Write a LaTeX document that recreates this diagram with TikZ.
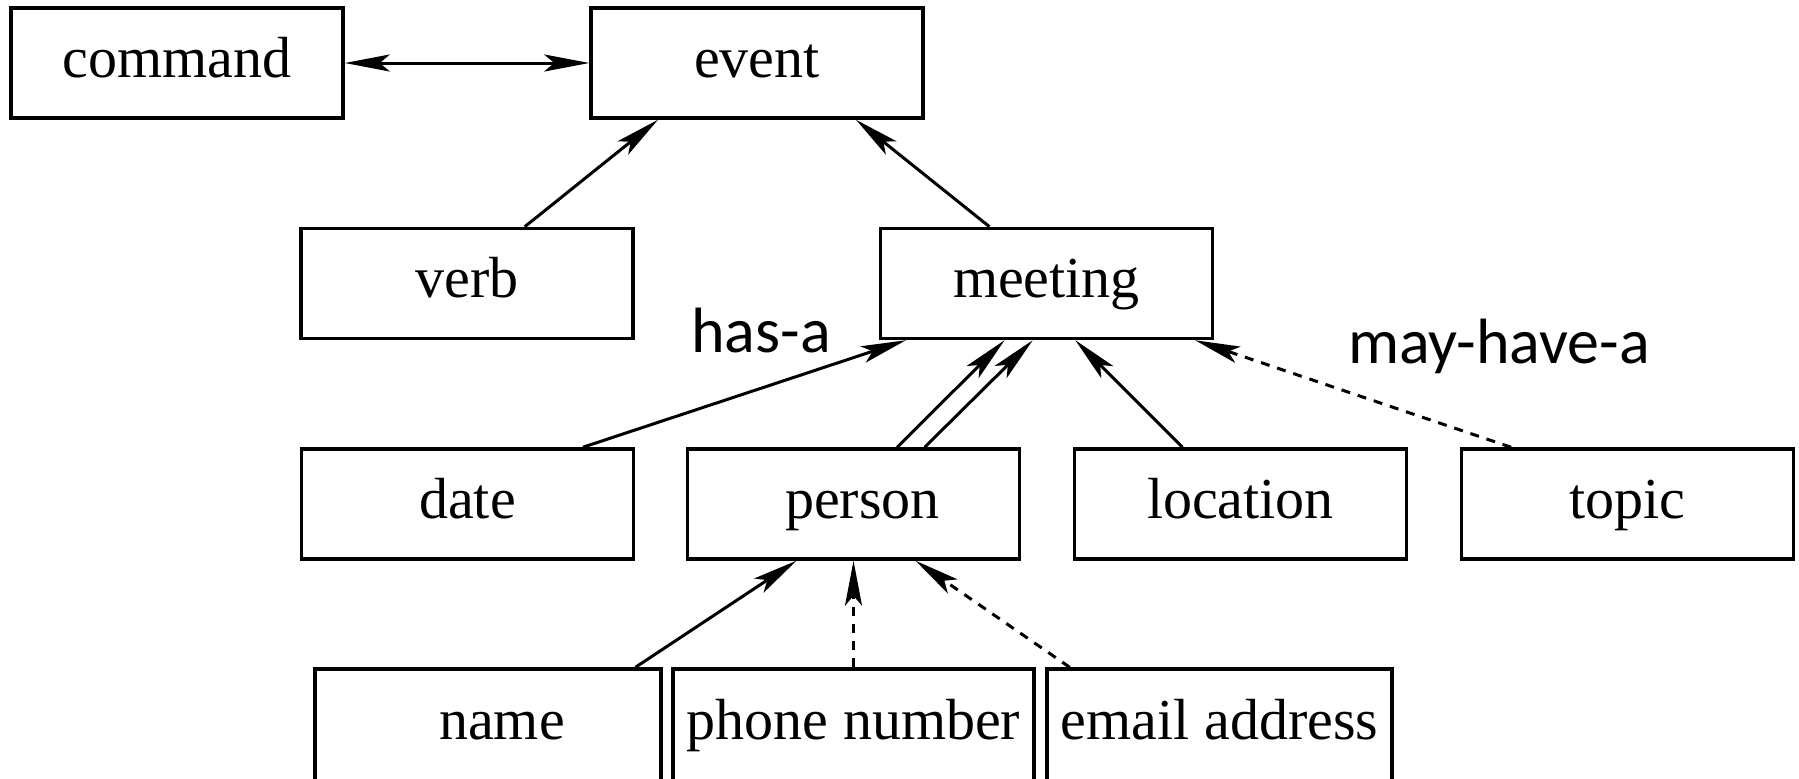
\documentclass[tikz,border=0pt]{standalone}
\usepackage{fontspec}
\setmainfont{Liberation Serif}
\newfontfamily\labelfont{Carlito}
\usetikzlibrary{arrows.meta,calc}
\begin{document}
\begin{tikzpicture}[x=1pt,y=-1pt,
  box/.style={draw, line width=3.5pt, minimum width=332pt, minimum height=110pt,
    inner sep=0pt, text height=42pt, text depth=14pt, font=\fontsize{58}{60}\selectfont},
  conn/.style={line width=3pt, -{Stealth[length=45pt,width=17pt,inset=10pt]}},
  both/.style={line width=3pt, {Stealth[length=45pt,width=17pt,inset=10pt]}-{Stealth[length=45pt,width=17pt,inset=10pt]}},
  opt/.style={conn, dash pattern=on 9pt off 8pt},
  lbl/.style={anchor=base, inner sep=0pt, font=\labelfont\fontsize{64}{66}\selectfont}]
\useasboundingbox (0,0) rectangle (1799,779);
% nodes
\node[box] (command) at (177,63) {command};
\node[box] (event) at (757,63) {event};
\node[box] (verb) at (467,283.5) {verb};
\node[box] (meeting) at (1046.5,283.5) {meeting};
\node[box] (date) at (467.5,504) {date};
\node[box] (person) at (853.5,504) {\hspace*{18pt}person};
\node[box] (location) at (1240.5,504) {location};
\node[box] (topic) at (1627.5,504) {topic};
\node[box, minimum width=346pt, minimum height=112pt] (name) at (488,725) {\hspace*{28pt}name};
\node[box, minimum width=361pt, minimum height=112pt] (phone) at (853.5,725) {phone number};
\node[box, minimum width=345pt, minimum height=112pt] (email) at (1219.5,725) {email address};
% labels
\node[lbl] (hasa) at (761,352) {has-a};
\node[lbl] (mayhave) at (1499,363) {may-have-a};
% connectors
\draw[both] (command.east) -- (event.west);
\draw[conn] ($(verb.north west)!0.672!(verb.north east)$) -- ($(event.south west)!0.205!(event.south east)$);
\draw[conn] ($(meeting.north west)!0.33!(meeting.north east)$) -- ($(event.south west)!0.795!(event.south east)$);
\draw[conn] ($(date.north west)!0.844!(date.north east)$) -- ($(meeting.south west)!0.081!(meeting.south east)$);
\draw[conn] ($(person.north west)!0.63!(person.north east)$) -- ($(meeting.south west)!0.375!(meeting.south east)$);
\draw[conn] ($(person.north west)!0.712!(person.north east)$) -- ($(meeting.south west)!0.459!(meeting.south east)$);
\draw[conn] ($(location.north west)!0.327!(location.north east)$) -- ($(meeting.south west)!0.586!(meeting.south east)$);
\draw[opt] ($(topic.north west)!0.153!(topic.north east)$) -- ($(meeting.south west)!0.943!(meeting.south east)$);
\draw[conn] ($(name.north west)!0.922!(name.north east)$) -- ($(person.south west)!0.33!(person.south east)$);
\draw[opt] (phone.north) -- (person.south);
\draw[opt] ($(email.north west)!0.07!(email.north east)$) -- ($(person.south west)!0.685!(person.south east)$);
\end{tikzpicture}
\end{document}
